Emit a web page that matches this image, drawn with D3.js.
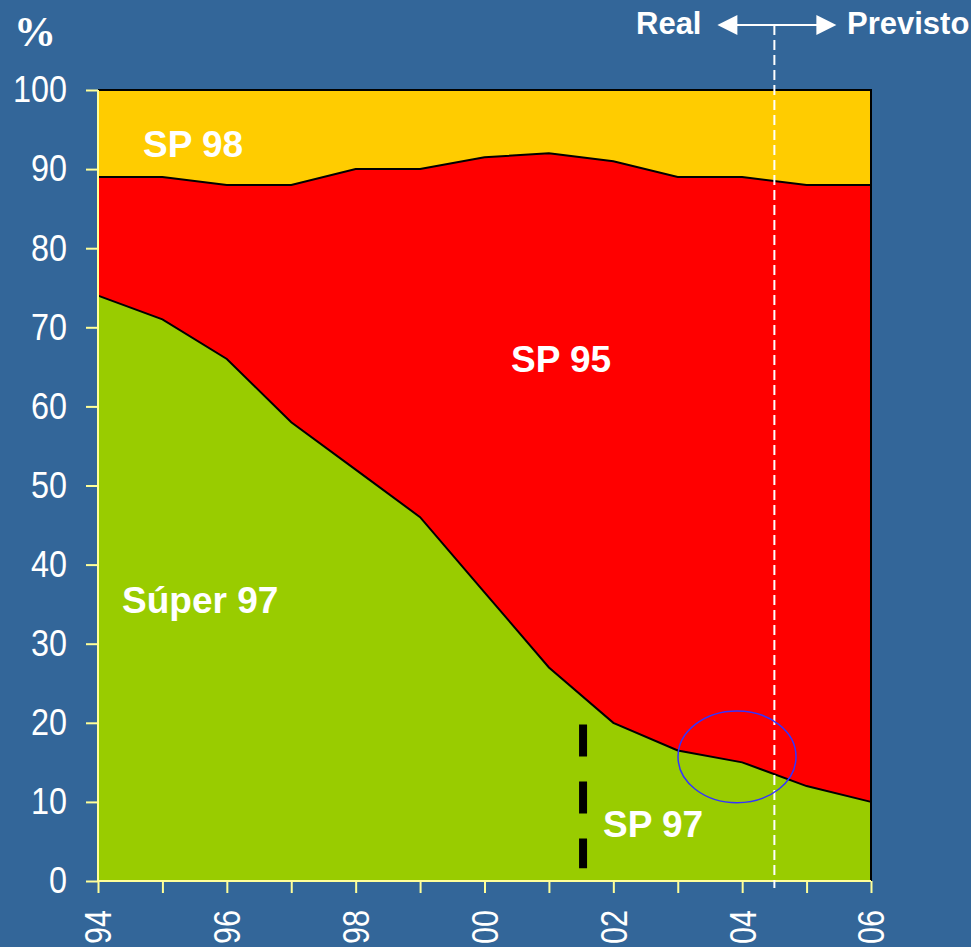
<!DOCTYPE html>
<html>
<head>
<meta charset="utf-8">
<script src="https://cdn.jsdelivr.net/npm/d3@7"></script>
<style>
  body { margin: 0; background: #336699; }
  svg { display: block; }
  .lbl { font-family: "Liberation Sans", Arial, sans-serif; font-weight: bold; fill: #fff; }
  .axis text { font-family: "Liberation Sans", Arial, sans-serif; fill: #fff; font-size: 37px; }
  .axis path, .axis line { stroke: #ffff99; stroke-width: 2; }
</style>
</head>
<body>
<div id="chart"></div>
<script>
// Data (percent share by year)
var years = [1994, 1995, 1996, 1997, 1998, 1999, 2000, 2001, 2002, 2003, 2004, 2005, 2006];
var super97 = [74, 71, 66, 58, 52, 46, 36.5, 27, 20, 16.5, 15, 12, 10];
var sp98 = [11, 11, 12, 12, 10, 10, 8.5, 8, 9, 11, 11, 12, 12];
var sp95 = years.map(function(y, i) { return 100 - super97[i] - sp98[i]; });
var yTicks = [0, 10, 20, 30, 40, 50, 60, 70, 80, 90, 100];
var keys = ["super97", "sp95", "sp98"];
var colors = {super97: "#99cc00", sp95: "#ff0000", sp98: "#ffcc00"};

var margin = {top: 90, right: 100, bottom: 66, left: 98};
var width = 971 - margin.left - margin.right;
var height = 947 - margin.top - margin.bottom;

var rows = years.map(function(y, i) {
    return {year: y, super97: super97[i], sp95: sp95[i], sp98: sp98[i]};
});

var x = d3.scaleLinear().domain([1994, 2006]).range([0, width]);
var y = d3.scaleLinear().domain([0, 100]).range([height, 0]);

var svg = d3.select("#chart").append("svg")
    .attr("width", 971)
    .attr("height", 947)
    .style("background", "#336699");

var g = svg.append("g")
    .attr("transform", "translate(" + margin.left + "," + margin.top + ")");

// stacked areas
var series = d3.stack().keys(keys)(rows);
var area = d3.area()
    .x(function(d) { return x(d.data.year); })
    .y0(function(d) { return y(d[0]); })
    .y1(function(d) { return y(d[1]); });

g.selectAll(".layer")
    .data(series)
    .enter().append("path")
    .attr("class", "layer")
    .attr("fill", function(d) { return colors[d.key]; })
    .attr("d", area);

// boundary lines between layers
var topLine = d3.line()
    .x(function(d) { return x(d.data.year); })
    .y(function(d) { return y(d[1]); });

g.selectAll(".edge")
    .data(series.slice(0, 2))
    .enter().append("path")
    .attr("fill", "none")
    .attr("stroke", "#000")
    .attr("stroke-width", 2)
    .attr("d", topLine);

// plot frame top and right
g.append("path")
    .attr("fill", "none")
    .attr("stroke", "#000")
    .attr("stroke-width", 2)
    .attr("d", "M0," + y(100) + "H" + x(2006) + "V" + y(0));

// axes (labels are a narrow face: squeeze to ~18px per digit)
var yAxis = d3.axisLeft(y).tickValues(yTicks).tickSize(12).tickPadding(19);
g.append("g").attr("class", "axis").call(yAxis)
    .call(function(s) {
        s.select(".domain").attr("d", "M0," + height + "V0");
        s.selectAll("text")
            .attr("textLength", function(d) { return String(d).length * 18; })
            .attr("lengthAdjust", "spacingAndGlyphs");
    });

var xAxis = d3.axisBottom(x).tickValues(years).tickSize(12)
    .tickFormat(function(d) { return d % 2 === 0 ? d3.format("02")(d % 100) : ""; });
g.append("g").attr("class", "axis")
    .attr("transform", "translate(0," + height + ")")
    .call(xAxis)
    .call(function(s) {
        s.select(".domain").attr("d", "M0,0H" + width);
        s.selectAll("text")
            .filter(function(d) { return d % 2 === 0; })
            .attr("transform", "rotate(-90)")
            .attr("text-anchor", "end")
            .attr("x", -29)
            .attr("y", 0)
            .attr("dy", "0.35em")
            .attr("textLength", 34)
            .attr("lengthAdjust", "spacingAndGlyphs");
    });

// black dashed marker at 2001.5
g.append("line")
    .attr("x1", x(2001.53)).attr("x2", x(2001.53))
    .attr("y1", y(19.8)).attr("y2", y(1.6))
    .attr("stroke", "#000")
    .attr("stroke-width", 8)
    .attr("stroke-dasharray", "32,25");

// white dashed separator Real / Previsto
var xSep = x(2004.5);
g.append("line")
    .attr("x1", xSep).attr("x2", xSep)
    .attr("y1", 25 - margin.top).attr("y2", height + 7)
    .attr("stroke", "#fff")
    .attr("stroke-width", 2)
    .attr("stroke-dasharray", "10,5");

// double arrow
var ay = 25 - margin.top;
var xl = xSep - 57, xr = xSep + 62;
g.append("line")
    .attr("x1", xl + 18).attr("x2", xr - 18)
    .attr("y1", ay).attr("y2", ay)
    .attr("stroke", "#fff").attr("stroke-width", 2);
g.append("path").attr("fill", "#fff")
    .attr("d", "M" + xl + "," + ay + "L" + (xl + 20) + "," + (ay - 10) + "L" + (xl + 20) + "," + (ay + 10) + "Z");
g.append("path").attr("fill", "#fff")
    .attr("d", "M" + xr + "," + ay + "L" + (xr - 20) + "," + (ay - 10) + "L" + (xr - 20) + "," + (ay + 10) + "Z");

// blue ellipse
g.append("ellipse")
    .attr("cx", x(2003.92))
    .attr("cy", y(15.7))
    .attr("rx", x(2003.92 + 0.916) - x(2003.92))
    .attr("ry", y(0) - y(5.8))
    .attr("fill", "none")
    .attr("stroke", "#3333ff")
    .attr("stroke-width", 1.5);

// labels
svg.append("text").attr("class", "lbl").attr("x", 636).attr("y", 34)
    .style("font-size", "31px").text("Real");
svg.append("text").attr("class", "lbl").attr("x", 847).attr("y", 34)
    .style("font-size", "31px").text("Previsto");
svg.append("text").attr("x", 14).attr("y", 46)
    .style("font-family", "'Liberation Serif', 'Times New Roman', serif")
    .style("font-weight", "bold").style("font-size", "42px").style("fill", "#fff")
    .text("%");

var inner = [
    {t: "SP 98", x: 143, y: 157},
    {t: "SP 95", x: 511, y: 372},
    {t: "Súper 97", x: 122, y: 613},
    {t: "SP 97", x: 603, y: 837}
];
svg.selectAll(".inner").data(inner).enter().append("text")
    .attr("class", "lbl")
    .attr("x", function(d) { return d.x; })
    .attr("y", function(d) { return d.y; })
    .style("font-size", "37px")
    .text(function(d) { return d.t; });
</script>
</body>
</html>
